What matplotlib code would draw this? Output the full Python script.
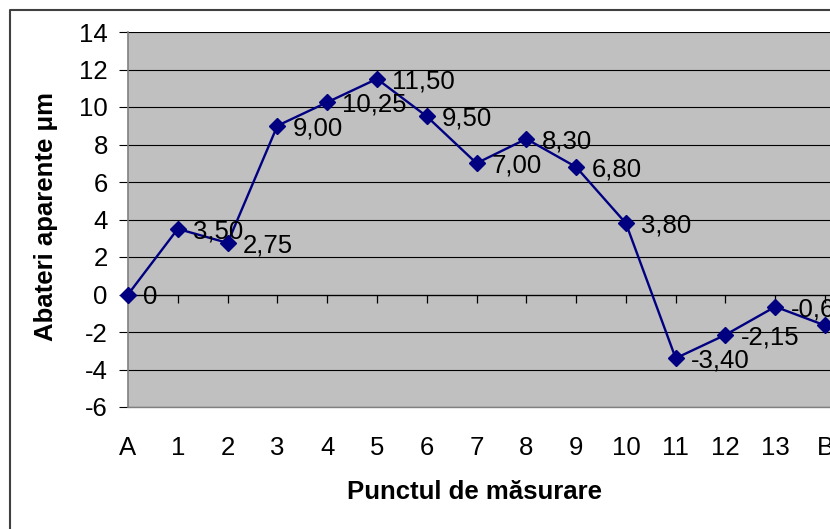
import matplotlib.pyplot as plt
import numpy as np
from matplotlib.lines import Line2D

points = ["A", "1", "2", "3", "4", "5", "6", "7", "8", "9", "10", "11", "12", "13", "B"]
deviations = [0, 3.50, 2.75, 9.00, 10.25, 11.50, 9.50, 7.00, 8.30, 6.80, 3.80,
              -3.40, -2.15, -0.65, -1.65]
value_labels = ["0", "3,50", "2,75", "9,00", "10,25", "11,50", "9,50", "7,00",
                "8,30", "6,80", "3,80", "-3,40", "-2,15", "-0,65", "-1,65"]
y_ticks = list(range(-6, 15, 2))

plt.rcParams["font.family"] = ["Liberation Sans", "DejaVu Sans"]
FS = 18.5

fig = plt.figure(figsize=(8.3, 5.29), dpi=100)
ax = fig.add_axes([128 / 830, 1 - 407 / 529, 14.5 * 49.79 / 830, 375 / 529])
ax.set_facecolor("#C0C0C0")

x = np.arange(len(points))
ax.set_xlim(0, 14.5)
ax.set_ylim(-6, 14)

ax.set_yticks(y_ticks)
ax.set_yticklabels([str(t) for t in y_ticks])
ax.grid(axis="y", color="black", linewidth=0.8, zorder=1)
ax.tick_params(axis="y", direction="out", length=6.5, width=0.8, color="black",
               pad=8, labelsize=FS)

ax.set_xticks(x, points)
ax.tick_params(axis="x", length=0, pad=21, labelsize=FS)

for side in ("top", "right"):
    ax.spines[side].set_visible(False)
ax.spines["left"].set_color("#808080")
ax.spines["left"].set_linewidth(1.2)
ax.spines["bottom"].set_color("#808080")
ax.spines["bottom"].set_linewidth(1.0)

# category ticks hanging from the zero line
ax.axhline(0, color="black", linewidth=0.9, zorder=1)
ax.plot(x, np.zeros(len(x)), linestyle="none", marker=3, markersize=6,
        markeredgewidth=0.9, color="black", zorder=2, clip_on=False)

ax.plot(x, deviations, color="#000080", linewidth=1.7, marker="D",
        markersize=8, markerfacecolor="#000080", markeredgecolor="#000080",
        zorder=3, clip_on=False)

for xi, yi, lab in zip(x, deviations, value_labels):
    ax.annotate(lab, (xi, yi), xytext=(11, 0), textcoords="offset points",
                ha="left", va="center_baseline", fontsize=FS, color="black",
                zorder=4, annotation_clip=False)

ax.set_ylabel("Abateri aparente μm", fontsize=FS, fontweight="bold")
ax.yaxis.set_label_coords(-0.097, 0.507)
ax.set_xlabel("Punctul de măsurare", fontsize=FS, fontweight="bold", va="center")
ax.xaxis.set_label_coords(0.48, -0.227)

# outer chart frame (only left and top visible)
fig.add_artist(Line2D([9.5 / 830, 9.5 / 830, 1], [0, 1 - 9.5 / 529, 1 - 9.5 / 529],
                      transform=fig.transFigure, color="#404040", linewidth=1.5))

fig.savefig("out.png", dpi=100)
